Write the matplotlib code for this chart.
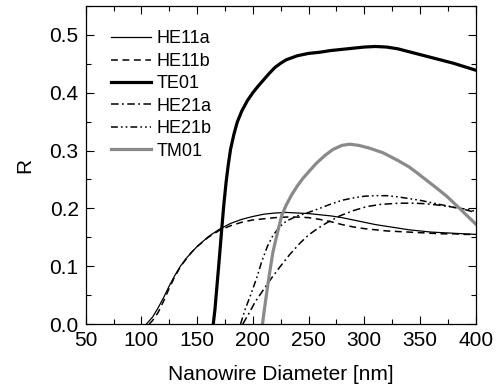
import matplotlib
matplotlib.use("Agg")
import matplotlib.pyplot as plt
from matplotlib.ticker import MultipleLocator, FormatStrFormatter

plt.rcParams['font.family'] = ['Liberation Sans', 'DejaVu Sans']

# --- data (diameter [nm], R) ---
he11a_d = [104.5, 110, 115, 120, 125, 130, 135, 140, 145, 150, 160, 170, 180, 190, 200,
           210, 220, 230, 240, 250, 260, 270, 280, 290, 300, 310, 320, 330, 340, 350,
           360, 370, 380, 390, 400]
he11a_r = [0.0, 0.012, 0.028, 0.046, 0.066, 0.084, 0.100, 0.113, 0.124, 0.134, 0.151,
           0.164, 0.174, 0.181, 0.186, 0.190, 0.192, 0.193, 0.192, 0.191, 0.189, 0.187,
           0.184, 0.180, 0.176, 0.172, 0.169, 0.166, 0.163, 0.161, 0.159, 0.158, 0.157,
           0.156, 0.155]

he11b_d = [107, 110, 115, 120, 125, 130, 135, 140, 145, 150, 160, 170, 180, 190, 200,
           210, 220, 230, 240, 250, 260, 270, 280, 290, 300, 310, 320, 330, 340, 350,
           360, 370, 380, 390, 400]
he11b_r = [0.0, 0.006, 0.020, 0.040, 0.062, 0.082, 0.099, 0.112, 0.124, 0.134, 0.150,
           0.162, 0.170, 0.176, 0.180, 0.182, 0.184, 0.185, 0.185, 0.184, 0.181, 0.177,
           0.172, 0.168, 0.165, 0.163, 0.161, 0.160, 0.159, 0.158, 0.157, 0.156, 0.156,
           0.155, 0.155]

te01_d = [164.5, 166, 168, 170, 172, 174, 176, 178, 180, 183, 186, 190, 195, 200, 205,
          210, 215, 220, 225, 230, 240, 250, 260, 270, 280, 290, 300, 310, 320, 330,
          340, 350, 360, 370, 380, 390, 400]
te01_r = [0.0, 0.025, 0.070, 0.115, 0.162, 0.207, 0.245, 0.276, 0.302, 0.328, 0.349,
          0.368, 0.386, 0.400, 0.412, 0.423, 0.434, 0.444, 0.451, 0.457, 0.464, 0.468,
          0.470, 0.473, 0.475, 0.477, 0.479, 0.480, 0.479, 0.476, 0.471, 0.466, 0.461,
          0.456, 0.451, 0.445, 0.439]

he21a_d = [191, 197, 202, 209.4, 217, 224.4, 233, 242.4, 250, 258, 266.3, 278, 290, 302,
           315, 332, 345, 355, 365, 377, 390, 400]
he21a_r = [0.0, 0.020, 0.038, 0.059, 0.080, 0.099, 0.120, 0.140, 0.154, 0.165, 0.175,
           0.187, 0.196, 0.203, 0.207, 0.209, 0.209, 0.208, 0.206, 0.203, 0.198, 0.193]

he21b_d = [189, 193, 198, 203.5, 208, 213, 218, 224, 230, 240, 250, 260, 268, 280, 290,
           300, 310, 320, 330, 340, 350, 360, 370, 380, 390, 400]
he21b_r = [0.0, 0.025, 0.050, 0.080, 0.108, 0.134, 0.153, 0.168, 0.178, 0.187, 0.193,
           0.200, 0.206, 0.214, 0.218, 0.221, 0.222, 0.222, 0.220, 0.217, 0.214, 0.210,
           0.206, 0.202, 0.199, 0.195]

tm01_d = [208.7, 210, 212, 214, 216, 218, 220, 223, 226, 230, 235, 240, 245, 250, 257,
          265, 272, 280, 287, 295, 305, 317, 330, 340, 347, 355, 365, 374, 385, 393, 400]
tm01_r = [0.0, 0.020, 0.048, 0.075, 0.100, 0.124, 0.141, 0.165, 0.188, 0.206, 0.224,
          0.239, 0.252, 0.263, 0.278, 0.292, 0.302, 0.309, 0.311, 0.309, 0.304, 0.296,
          0.283, 0.272, 0.262, 0.250, 0.235, 0.221, 0.201, 0.186, 0.173]

GRAY = '#8a8a8a'

fig = plt.figure(figsize=(4.99, 3.89), dpi=100)
ax = fig.add_axes([0.1717, 0.167, 0.7816, 0.8176])

ax.plot(he11a_d, he11a_r, color='black', lw=0.9, label='HE11a')
ax.plot(he11b_d, he11b_r, color='black', lw=1.1, dashes=(4.5, 3), label='HE11b')
ax.plot(te01_d, te01_r, color='black', lw=2.3, label='TE01')
ax.plot(he21a_d, he21a_r, color='black', lw=1.1, dashes=(5, 2.2, 1.2, 2.2), label='HE21a')
ax.plot(he21b_d, he21b_r, color='black', lw=1.1, dashes=(4.5, 2, 1.1, 2, 1.1, 2), label='HE21b')
ax.plot(tm01_d, tm01_r, color=GRAY, lw=2.3, label='TM01')

ax.set_xlim(50, 400)
ax.set_ylim(0, 0.55)
ax.xaxis.set_major_locator(MultipleLocator(50))
ax.xaxis.set_minor_locator(MultipleLocator(25))
ax.yaxis.set_major_locator(MultipleLocator(0.1))
ax.yaxis.set_minor_locator(MultipleLocator(0.05))
ax.yaxis.set_major_formatter(FormatStrFormatter('%.1f'))

ax.tick_params(which='both', direction='in', top=True, right=True, labelsize=15, width=0.8)
ax.tick_params(which='major', length=6, pad=5)
ax.tick_params(which='minor', length=3.5)
for s in ax.spines.values():
    s.set_linewidth(0.9)

ax.set_xlabel('Nanowire Diameter [nm]', fontsize=15, labelpad=11)
ax.set_ylabel('R', fontsize=15, labelpad=11)

ax.legend(loc='upper left', bbox_to_anchor=(0.066, 0.923), frameon=False,
          fontsize=13, handlelength=2.2, handletextpad=0.28, labelspacing=0.3,
          borderpad=0, borderaxespad=0)

fig.savefig('out.png', dpi=100)
